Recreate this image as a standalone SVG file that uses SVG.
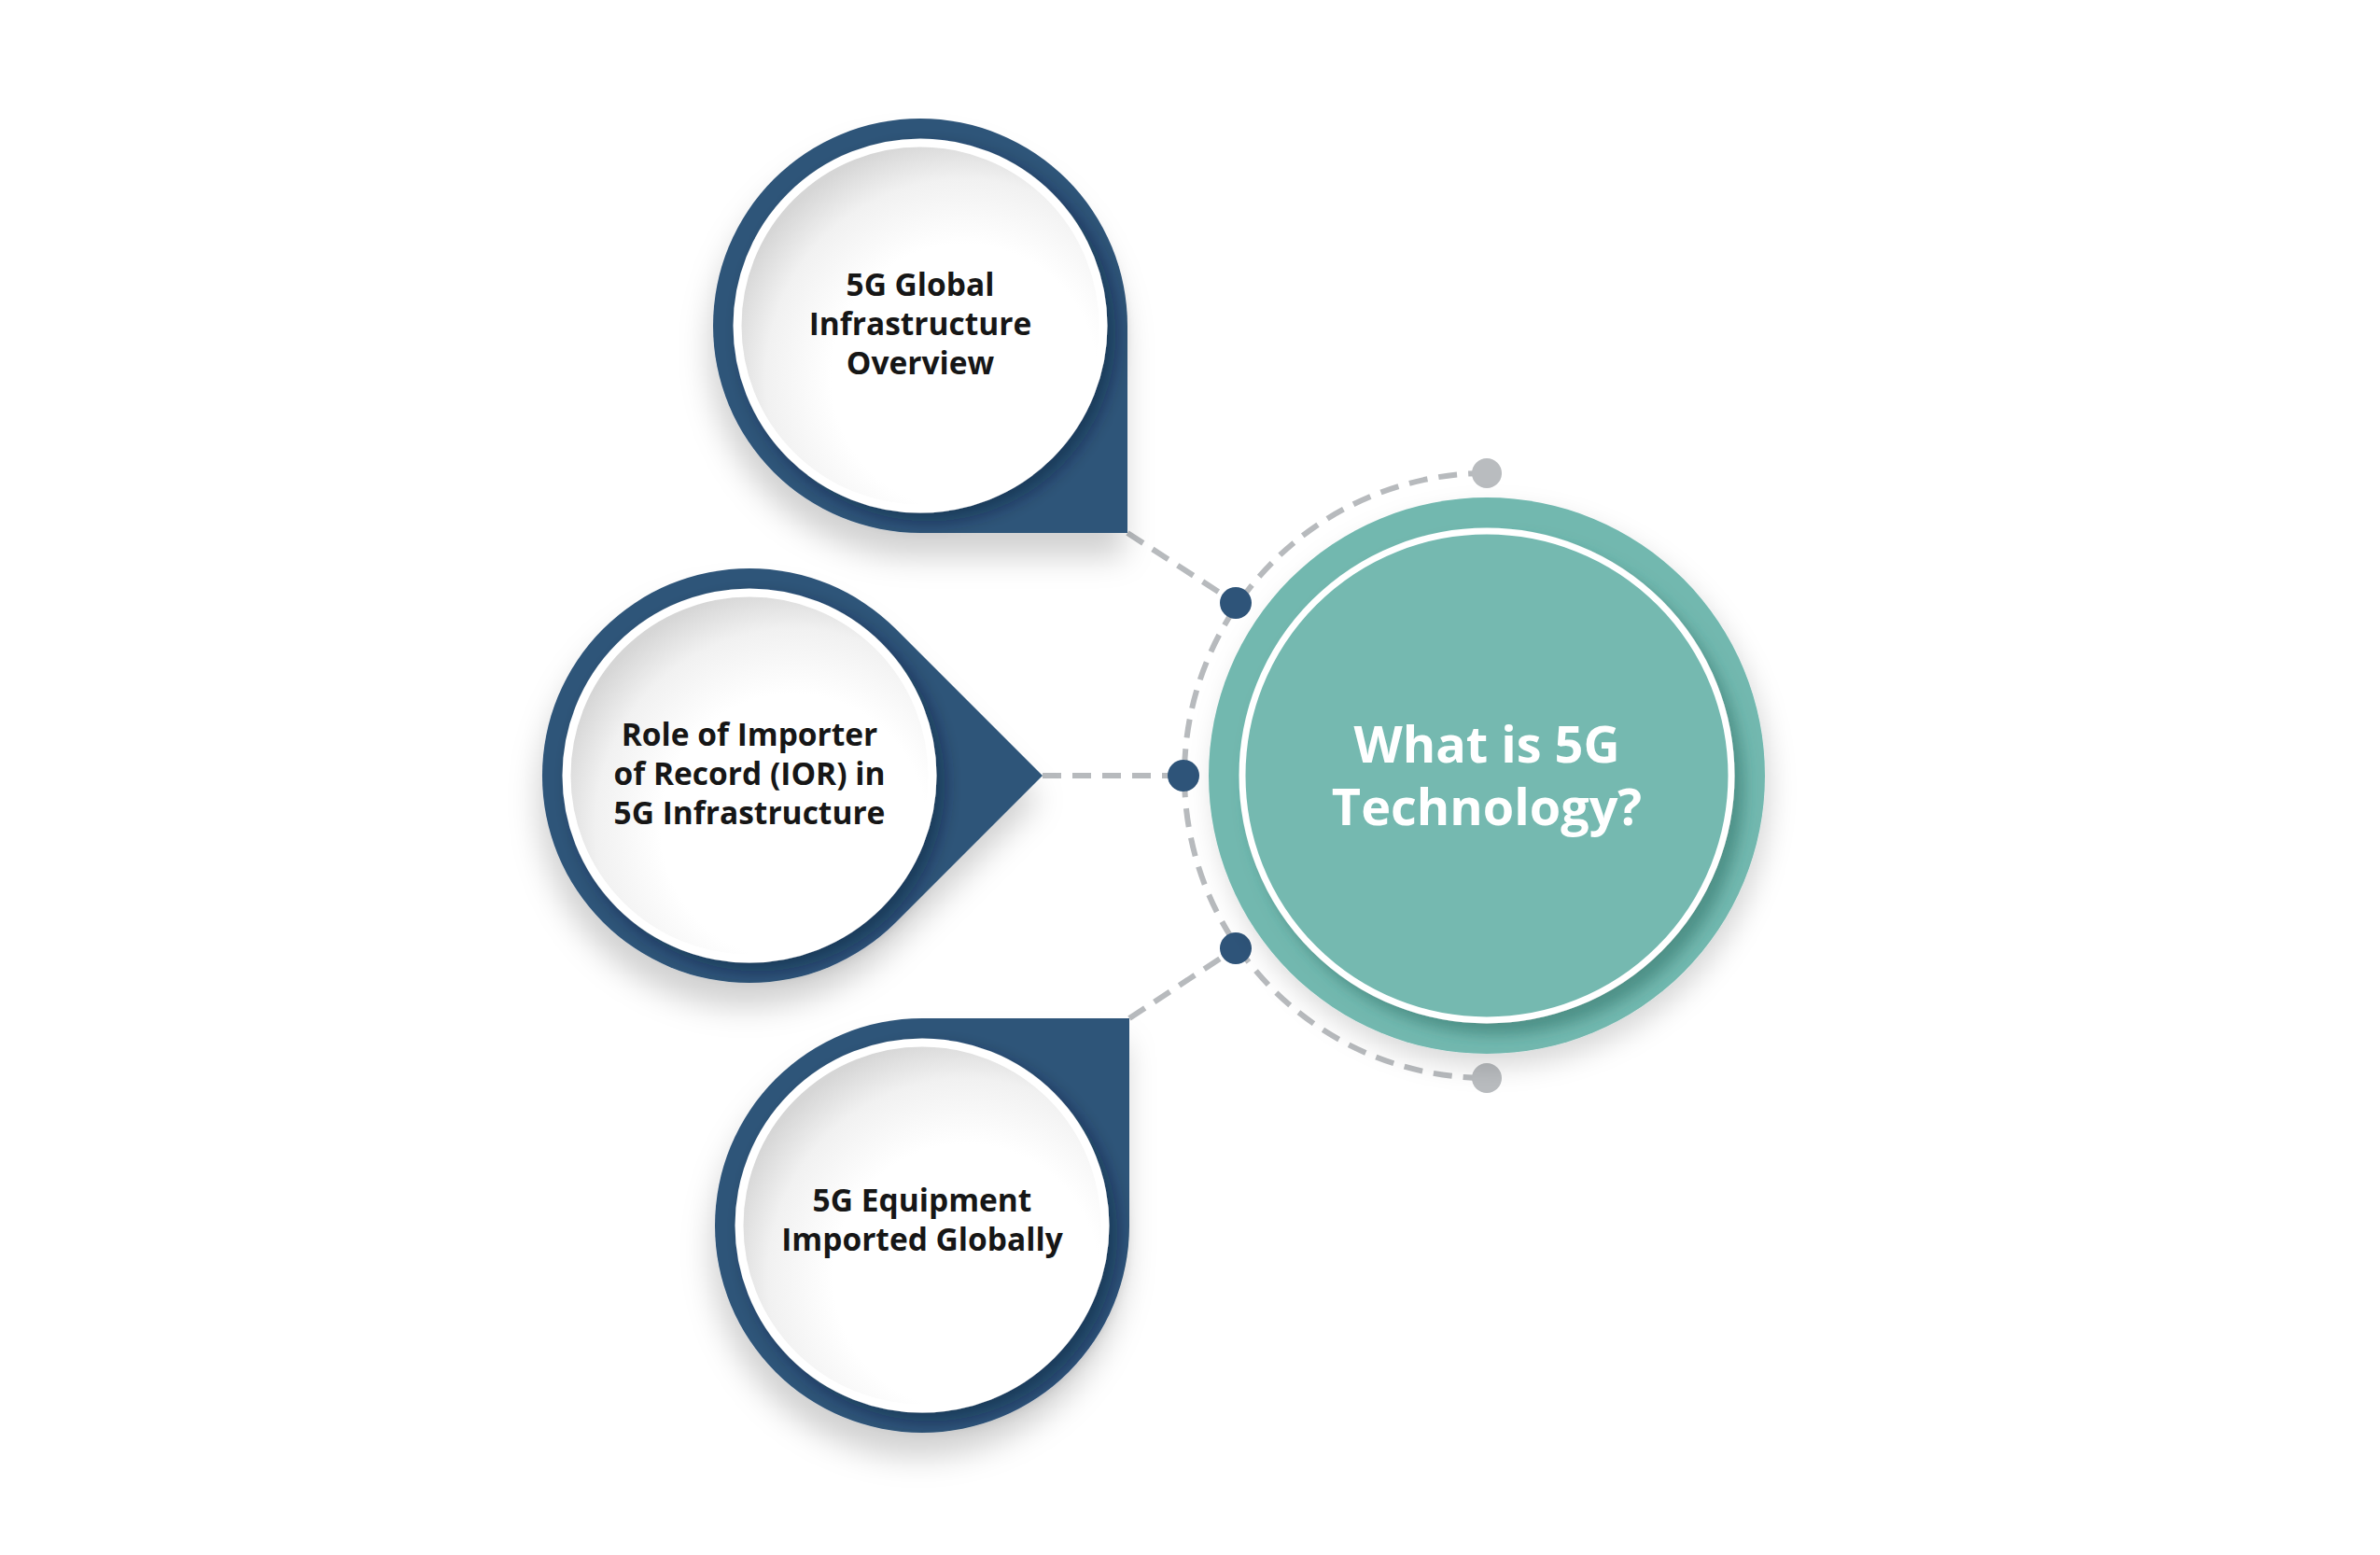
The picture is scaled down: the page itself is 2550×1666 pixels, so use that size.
<svg xmlns="http://www.w3.org/2000/svg" width="2550" height="1666" viewBox="0 0 2550 1666">
  <defs>
    <style>
      .blue { fill: #2e5479; }
      .disc { fill: url(#wg); stroke: #ffffff; stroke-width: 9; }
      .lbl { font-family: "Open Sans", "Noto Sans", "DejaVu Sans", sans-serif; font-weight: 700; font-size: 33.5px; fill: #161616; text-anchor: middle; }
      .ctr { font-family: "Open Sans", "Noto Sans", "DejaVu Sans", sans-serif; font-weight: 700; font-size: 54px; fill: #ffffff; text-anchor: middle; }
      .dash { fill: none; stroke: #b7babd; stroke-width: 6; stroke-dasharray: 20 12; }
      .bdot { fill: #2e5479; }
      .gdot { fill: #b9bcbf; }
    </style>
    <radialGradient id="wg" cx="0.62" cy="0.64" r="0.66">
      <stop offset="0" stop-color="#ffffff"/>
      <stop offset="0.55" stop-color="#ffffff"/>
      <stop offset="0.82" stop-color="#f1f1f1"/>
      <stop offset="1" stop-color="#d6d6d6"/>
    </radialGradient>
    <filter id="nodeShadow" x="-30%" y="-30%" width="160%" height="170%">
      <feDropShadow dx="-4" dy="26" stdDeviation="16" flood-color="#000000" flood-opacity="0.18"/>
    </filter>
    <filter id="discShadow" x="-30%" y="-30%" width="160%" height="160%">
      <feDropShadow dx="9" dy="9" stdDeviation="9" flood-color="#0b1f33" flood-opacity="0.45"/>
    </filter>
    <filter id="tealShadow" x="-30%" y="-30%" width="160%" height="160%">
      <feDropShadow dx="6" dy="14" stdDeviation="14" flood-color="#000000" flood-opacity="0.15"/>
    </filter>
    <filter id="innerTealShadow" x="-30%" y="-30%" width="160%" height="160%">
      <feDropShadow dx="10" dy="12" stdDeviation="8" flood-color="#2f6f66" flood-opacity="0.55"/>
    </filter>
  </defs>

  <rect x="0" y="0" width="2550" height="1666" fill="#ffffff"/>

  <g id="connectors">
    <path class="dash" d="M 1593 507 A 324 324 0 0 0 1593 1155"/>
    <line class="dash" x1="1208" y1="571" x2="1324" y2="646"/>
    <line class="dash" x1="1117" y1="831" x2="1268" y2="831"/>
    <line class="dash" x1="1210" y1="1091" x2="1324" y2="1016"/>
    <circle class="gdot" cx="1593" cy="507" r="16"/>
    <circle class="gdot" cx="1593" cy="1155" r="16"/>
    <circle class="bdot" cx="1324" cy="646" r="17"/>
    <circle class="bdot" cx="1268" cy="831" r="17"/>
    <circle class="bdot" cx="1324" cy="1016" r="17"/>
  </g>

  <g id="node-center">
    <circle cx="1593" cy="831" r="298" fill="#72b8af" filter="url(#tealShadow)"/>
    <circle cx="1593" cy="831" r="262" fill="#74b9b0" stroke="#ffffff" stroke-width="7" filter="url(#innerTealShadow)"/>
    <text class="ctr" x="1593" y="817">What is 5G</text>
    <text class="ctr" x="1593" y="884">Technology?</text>
  </g>

  <g id="node-top">
    <path class="blue" filter="url(#nodeShadow)" d="M 1208 349 L 1208 571 L 986 571 A 222 222 0 1 1 1208 349 Z"/>
    <circle class="disc" cx="986" cy="349" r="196" filter="url(#discShadow)"/>
    <text class="lbl" x="986" y="317">5G Global</text>
    <text class="lbl" x="986" y="359">Infrastructure</text>
    <text class="lbl" x="986" y="401">Overview</text>
  </g>

  <g id="node-middle">
    <path class="blue" filter="url(#nodeShadow)" d="M 960 674 L 1117 831 L 960 988 A 222 222 0 1 1 960 674 Z"/>
    <circle class="disc" cx="803" cy="831" r="196" filter="url(#discShadow)"/>
    <text class="lbl" x="803" y="799">Role of Importer</text>
    <text class="lbl" x="803" y="841">of Record (IOR) in</text>
    <text class="lbl" x="803" y="883">5G Infrastructure</text>
  </g>

  <g id="node-bottom">
    <path class="blue" filter="url(#nodeShadow)" d="M 988 1091 L 1210 1091 L 1210 1313 A 222 222 0 1 1 988 1091 Z"/>
    <circle class="disc" cx="988" cy="1313" r="196" filter="url(#discShadow)"/>
    <text class="lbl" x="988" y="1298">5G Equipment</text>
    <text class="lbl" x="988" y="1340">Imported Globally</text>
  </g>
</svg>
